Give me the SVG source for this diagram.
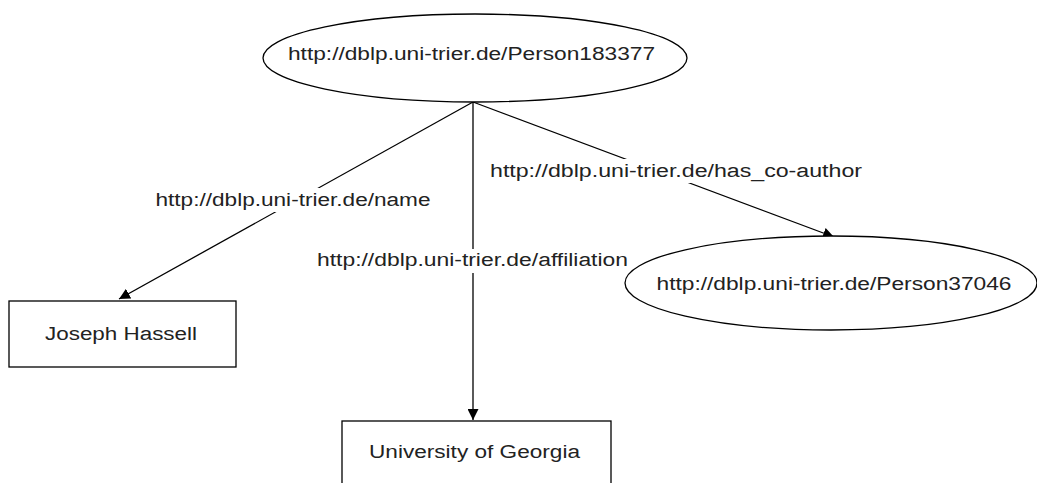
<svg xmlns="http://www.w3.org/2000/svg" width="1037" height="483" viewBox="0 0 1037 483">
<style>
.shape{fill:#fff;stroke:#000;stroke-width:1.3}
.t{font-family:"Liberation Sans",Arial,sans-serif;font-size:18px;fill:#222;text-anchor:middle}
.edge{stroke:#000;stroke-width:1.3;fill:none}
.lblbg{fill:#fff}
</style>
<defs>
<marker id="arr" viewBox="0 0 10 10" refX="10" refY="5" markerWidth="11" markerHeight="11" markerUnits="userSpaceOnUse" orient="auto">
<path d="M0,0 L10,5 L0,10 z" fill="#000"/>
</marker>
</defs>
<rect width="1037" height="483" fill="#fff"/>
<g id="connectors">
<line class="edge" x1="473" y1="102" x2="119" y2="299" marker-end="url(#arr)"/>
<line class="edge" x1="473" y1="102" x2="473" y2="420" marker-end="url(#arr)"/>
<line class="edge" x1="473" y1="102" x2="834" y2="237" marker-end="url(#arr)"/>
<rect class="lblbg" x="152" y="188" width="282" height="24"/>
<text class="t" x="293" y="206" textLength="275" lengthAdjust="spacingAndGlyphs">http://dblp.uni-trier.de/name</text>
<rect class="lblbg" x="314" y="249" width="317" height="24"/>
<text class="t" x="472.5" y="266" textLength="311" lengthAdjust="spacingAndGlyphs">http://dblp.uni-trier.de/affiliation</text>
<rect class="lblbg" x="487" y="159" width="379" height="24"/>
<text class="t" x="676" y="177" textLength="372" lengthAdjust="spacingAndGlyphs">http://dblp.uni-trier.de/has_co-author</text>
</g>
<g id="person183377">
<ellipse class="shape" cx="475" cy="58" rx="212" ry="44"/>
<text class="t" x="471.5" y="60" textLength="367" lengthAdjust="spacingAndGlyphs">http://dblp.uni-trier.de/Person183377</text>
</g>
<g id="joseph-hassell">
<rect class="shape" x="9" y="301" width="227" height="66"/>
<text class="t" x="121" y="340" textLength="152" lengthAdjust="spacingAndGlyphs">Joseph Hassell</text>
</g>
<g id="person37046">
<ellipse class="shape" cx="831" cy="283" rx="206" ry="47"/>
<text class="t" x="834" y="290" textLength="355" lengthAdjust="spacingAndGlyphs">http://dblp.uni-trier.de/Person37046</text>
</g>
<g id="university-of-georgia">
<rect class="shape" x="342" y="421" width="269" height="80"/>
<text class="t" x="474.5" y="458" textLength="211" lengthAdjust="spacingAndGlyphs">University of Georgia</text>
</g>
</svg>
